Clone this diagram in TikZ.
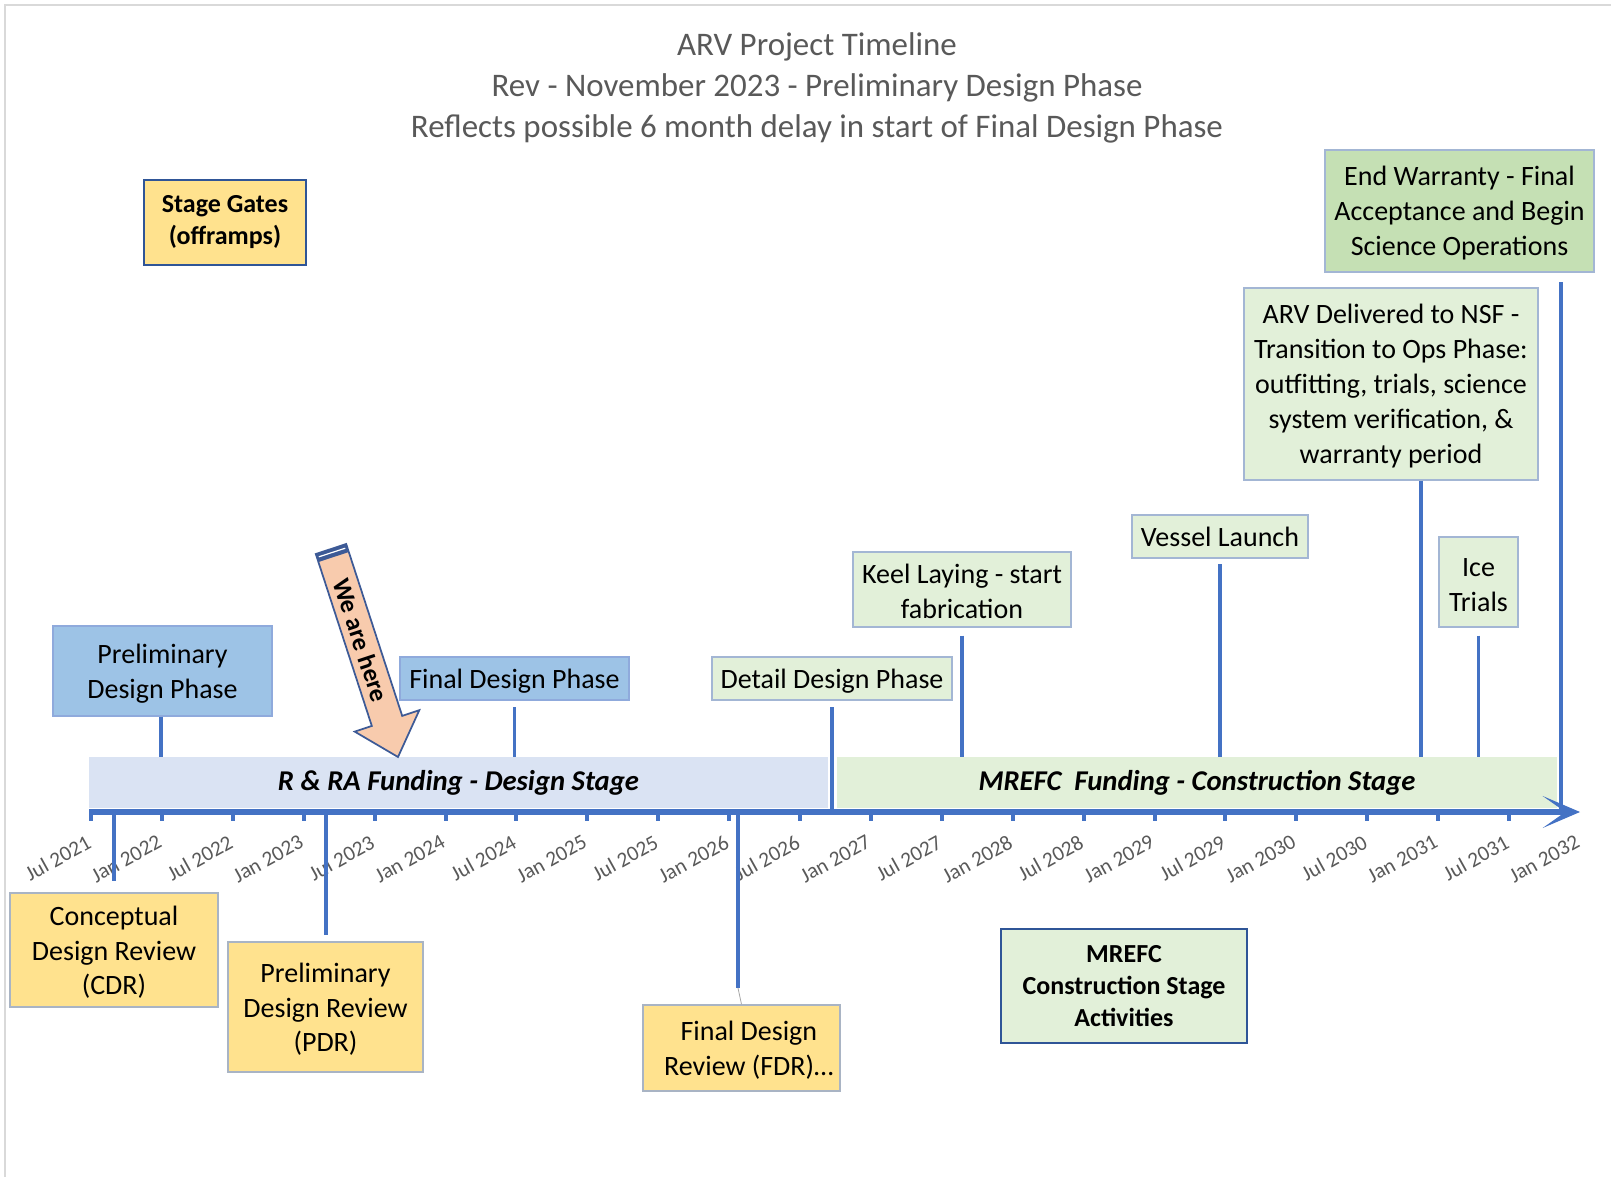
\documentclass[tikz,border=0pt]{standalone}
\usepackage{fontspec}
\setmainfont{Carlito}
\usetikzlibrary{arrows.meta}
\definecolor{axisblue}{HTML}{4472C4}
\definecolor{darkblue}{HTML}{2F5597}
\definecolor{boxblue}{HTML}{9DC3E6}
\definecolor{boxblueline}{HTML}{8FAADC}
\definecolor{palegreen}{HTML}{E2F0D9}
\definecolor{midgreen}{HTML}{C5E0B4}
\definecolor{greenline}{HTML}{A3B6D4}
\definecolor{paleyellow}{HTML}{FFE28E}
\definecolor{yellowline}{HTML}{A9B4C4}
\definecolor{bandblue}{HTML}{DAE3F3}
\definecolor{titlegray}{HTML}{595959}
\definecolor{peach}{HTML}{F8CBAD}
\definecolor{slate}{HTML}{3D5A96}
\newcommand\boxlift{\rule{0pt}{18pt}}
\begin{document}
\begin{tikzpicture}[x=0.75pt,y=-0.75pt,
  box/.style={inner sep=0pt, align=center, line width=1.1pt, font=\fontsize{21}{26.2}\selectfont},
  bluebox/.style={box, fill=boxblue, draw=boxblueline},
  greenbox/.style={box, fill=palegreen, draw=greenline},
  yellowbox/.style={box, fill=paleyellow, draw=yellowline},
  gatebox/.style={inner sep=0pt, align=center, line width=2pt, draw=darkblue, font=\bfseries\fontsize{19.5}{24}\selectfont},
  band/.style={inner sep=0pt, font=\bfseries\itshape\fontsize{21.5}{26}\selectfont},
  conn/.style={draw=axisblue, line width=2.8pt},
  tickmark/.style={draw=axisblue, line width=3pt},
  ticklab/.style={anchor=north east, rotate=29, inner sep=1pt, text=titlegray, font=\fontsize{16}{19}\selectfont},
]
\useasboundingbox (0,0) rectangle (1611,1177);
% frame
\draw[gray!30, line width=1.2pt] (5,1177) -- (5,5) -- (1611,5);

% title
\node[align=center, text=titlegray, font=\fontsize{24.7}{30.8}\selectfont] (title) at (817,88)
  {ARV Project Timeline\\Rev - November 2023 - Preliminary Design Phase\\Reflects possible 6 month delay in start of Final Design Phase};

% stage gates legend
\node[gatebox, fill=paleyellow, minimum width=121.5pt, minimum height=63.75pt] (gates) at (225,222.5) {Stage Gates\\(offramps)};

% bands
\node[band, fill=bandblue, minimum width=554.25pt, minimum height=38.25pt] (band1) at (458.5,782.5) {R \& RA Funding - Design Stage};
\node[band, fill=palegreen, minimum width=540pt, minimum height=38.25pt] (band2) at (1197,782.5) {MREFC\ \ Funding - Construction Stage};

% boxes above
\node[bluebox, minimum width=164.25pt, minimum height=67.5pt] (pdp) at (162.5,671) {\boxlift Preliminary\\Design Phase};
\node[bluebox, minimum width=171.75pt, minimum height=32.25pt] (fdp) at (514.5,678.5) {\boxlift Final Design Phase};
\node[greenbox, minimum width=180pt, minimum height=32.25pt] (ddp) at (832,678.5) {\boxlift Detail Design Phase};
\node[greenbox, minimum width=163.5pt, minimum height=56.25pt] (keel) at (962,589.5) {\boxlift Keel Laying - start\\fabrication};
\node[greenbox, minimum width=132pt, minimum height=32.25pt] (vessel) at (1220,536.5) {Vessel Launch};
\node[greenbox, minimum width=220.5pt, minimum height=144pt] (arv) at (1391,384) {\boxlift ARV Delivered to NSF -\\Transition to Ops Phase:\\outfitting, trials, science\\system verification, \&\\warranty period};
\node[greenbox, minimum width=59.25pt, minimum height=67.5pt] (ice) at (1478.5,582) {\boxlift Ice\\Trials};
\node[box, fill=midgreen, draw=greenline, minimum width=201.75pt, minimum height=91.5pt] (endw) at (1459.5,211) {\boxlift End Warranty - Final\\Acceptance and Begin\\Science Operations};

% boxes below
\node[yellowbox, minimum width=156pt, minimum height=85.5pt] (cdr) at (114,950) {\boxlift Conceptual\\Design Review\\(CDR)};
\node[yellowbox, minimum width=146.25pt, minimum height=97.5pt] (pdr) at (325.5,1007) {\boxlift Preliminary\\Design Review\\(PDR)};
\node[yellowbox, minimum width=147.75pt, minimum height=64.5pt] (fdr) at (741.5,1048) {\boxlift\hspace*{11pt}Final Design\\\hspace*{11pt}Review (FDR)…};
\node[gatebox, fill=palegreen, minimum width=184.5pt, minimum height=85.5pt] (mrefc) at (1124,986) {MREFC\\Construction Stage\\Activities};

% axis
\draw[axisblue, line width=4pt, -{Stealth[length=28pt,width=24pt,inset=17pt]}] (89,812) -- (1580,812);
\foreach \i in {0,...,21}{
  \pgfmathsetmacro\xx{91+70.9*\i}
  \pgfmathtruncatemacro\yr{2021+int((\i+1)/2)}
  \ifodd\i \def\mo{Jan}\else\def\mo{Jul}\fi
  \ifnum\i<21 \draw[tickmark] (\xx,812) -- (\xx,821);\fi
  \node[ticklab] (t\i) at (\xx-5,832) {\mo\ \yr};
}

% connectors above the axis
\coordinate (pdpE) at (161,757);
\draw[conn] (pdp.south -| pdpE) -- (pdpE);
\coordinate (fdpE) at (514.5,757);
\draw[conn] ([yshift=-5pt]fdp.south) -- (fdpE);
\coordinate (ddpE) at (832,810);
\draw[conn] ([yshift=-5pt]ddp.south) -- (ddpE);
\coordinate (keelE) at (962,757);
\draw[conn] ([yshift=-6pt]keel.south) -- (keelE);
\coordinate (vesselE) at (1220,757);
\draw[conn] ([yshift=-4pt]vessel.south) -- (vesselE);
\coordinate (arvE) at (1421,757);
\draw[conn] (arv.south -| arvE) -- (arvE);
\coordinate (iceE) at (1478.5,757);
\draw[conn] ([yshift=-6pt]ice.south) -- (iceE);
\coordinate (endwS) at (1561,282);
\coordinate (endwE) at (1561,812);
\draw[conn] (endwS) -- (endwE);

% connectors below the axis
\coordinate (cdrS) at (114,812);
\coordinate (cdrE) at (114,881);
\draw[conn] (cdrS) -- (cdrE);
\coordinate (pdrS) at (326,812);
\coordinate (pdrE) at (326,935);
\draw[conn] (pdrS) -- (pdrE);
\coordinate (fdrS) at (738,812);
\coordinate (fdrE) at (738,988);
\draw[conn] (fdrS) -- (fdrE);
\draw[gray!70, line width=0.6pt] (fdrE) -- (fdr.north);

% "We are here" block arrow
\draw[fill=peach, draw=slate, line width=1.3pt, line join=miter]
  (315.8,554) -- (346.2,544) -- (402.2,715.9) -- (419.3,710.2) -- (398,757)
  -- (354.7,731.6) -- (371.8,725.9) -- cycle;
\fill[slate] (315.8,554) -- (346.2,544) -- (348.9,552) -- (318.5,562) -- cycle;
\draw[white, line width=0.9pt] (318.9,556.8) -- (345.3,548.2);
\node[rotate=-71.6, inner sep=0pt, font=\bfseries\fontsize{19}{22}\selectfont] (here) at (361,640) {We are here};
\end{tikzpicture}
\end{document}
